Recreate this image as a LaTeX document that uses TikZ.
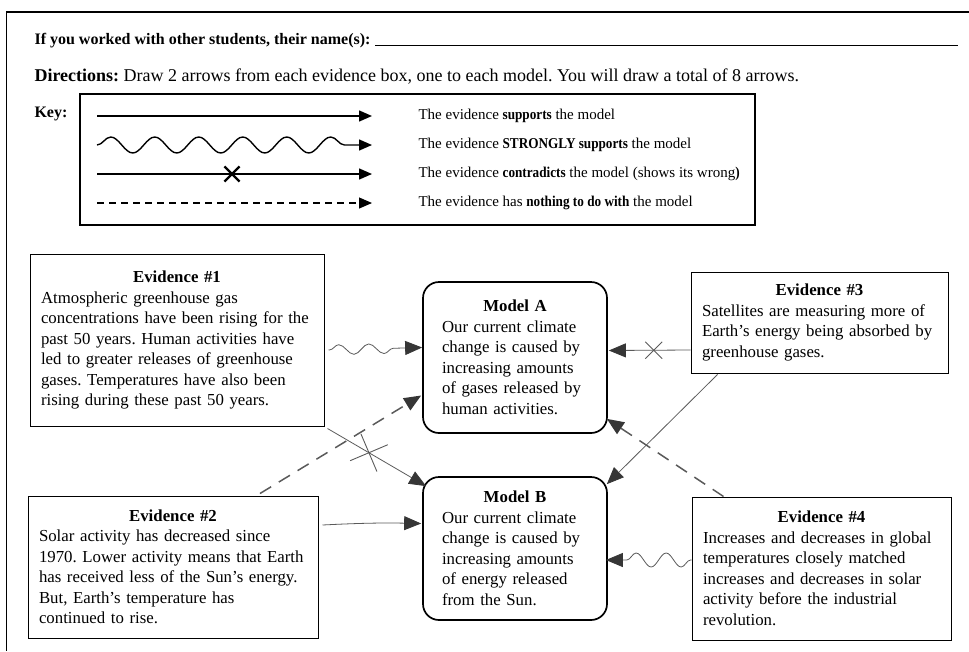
\documentclass[tikz,border=0pt]{standalone}
\usepackage{fontspec}
\setmainfont{Liberation Serif}
\newfontfamily\keyfont{Liberation Serif}[BoldFeatures={FakeStretch=0.88}]
\usetikzlibrary{arrows.meta,decorations.pathmorphing,shapes.misc,calc}
\definecolor{pencil}{HTML}{5A5A5A}
\definecolor{tipgray}{HTML}{363636}
\frenchspacing
\begin{document}
\begin{tikzpicture}[x=1pt,y=-1pt,
   evbox/.style={draw,line width=1pt,inner xsep=11pt,inner ysep=0pt,align=left,
     font=\fontsize{16.8}{20.5}\selectfont},
   modelbox/.style={draw,line width=1.7pt,rounded corners=16pt,inner xsep=19pt,inner ysep=0pt,align=left,
     font=\fontsize{16.8}{20.5}\selectfont},
   keyarrow/.style={line width=1.4pt,-{Triangle[length=13pt,width=11pt]}},
   pencilarrow/.style={pencil,line width=0.8pt,-{Triangle[length=17pt,width=14pt,color=tipgray]}},
   pencilwave/.style={pencilarrow,decorate,decoration={snake,amplitude=#1,segment length=30pt,
     pre length=1pt,post length=16pt}},
   pencildash/.style={pencilarrow,line width=1.5pt,dash pattern=on 13pt off 9pt},
   pencilcross/.style={cross out,draw=pencil,line width=0.9pt,inner sep=0pt},
   keycross/.style={cross out,draw,line width=2.2pt,inner sep=0pt,minimum size=13pt},
   keytext/.style={anchor=west,font=\keyfont\fontsize{15}{17}\selectfont}]
  \useasboundingbox (0,0) rectangle (969,651);
  \draw [line width=1.3pt] (969,12) -- (6.5,12) -- (6.5,651);
  \node [anchor=west,font=\fontsize{16}{19}\selectfont\bfseries] (names) at (31,41)
    {If you worked with other students, their name(s):};
  \draw [line width=0.8pt] ([xshift=1pt]names.base east) -- (names.base east -| 958,0);
  \node [anchor=west,font=\fontsize{18}{20}\selectfont] (dirs) at (31,77)
    {\textbf{Directions:} Draw 2 arrows from each evidence box, one to each model. You will draw a total of 8 arrows.};
  \node [anchor=west,font=\fontsize{16}{19}\selectfont\bfseries] (key) at (31,114) {Key:};
  \draw [line width=1.1pt] (80,94) rectangle (755,225);
  \draw [keyarrow] (97,116) -- (372,116);
  \draw [keyarrow,decorate,decoration={snake,amplitude=8pt,segment length=44pt,post length=16pt}]
    (97,145) -- (372,145);
  \draw [keyarrow] (97,174) -- (372,174);
  \node [keycross] (keyx) at (232,174) {};
  \draw [keyarrow,line width=1.1pt,dash pattern=on 7pt off 5pt] (97,203) -- (372,203);
  \node [keytext] (k1) at (415,116) {The evidence \textbf{supports} the model};
  \node [keytext] (k2) at (415,145) {The evidence \textbf{STRONGLY supports} the model};
  \node [keytext] (k3) at (415,174) {The evidence \textbf{contradicts} the model (shows its wrong\textbf{)}};
  \node [keytext] (k4) at (415,203) {The evidence has \textbf{nothing to do with} the model};
  \node [evbox,text width=272pt,minimum height=172pt] (ev1) at (177,340)
    {\hfill\textbf{Evidence \#1}\hfill\null\\
     Atmospheric greenhouse gas\\
     concentrations have been rising for the\\
     past 50 years. Human activities have\\
     led to greater releases of greenhouse\\
     gases. Temperatures have also been\\
     rising during these past 50 years.};
  \node [evbox,text width=268pt,minimum height=142pt] (ev2) at (173,567)
    {\hfill\textbf{Evidence \#2}\hfill\null\\
     Solar activity has decreased since\\
     1970. Lower activity means that Earth\\
     has received less of the Sun’s energy.\\
     But, Earth’s temperature has\\
     continued to rise.};
  \node [evbox,text width=235pt,minimum height=101pt] (ev3) at (819.5,322.5)
    {\hfill\textbf{Evidence \#3}\hfill\null\\
     Satellites are measuring more of\\
     Earth’s energy being absorbed by\\
     greenhouse gases.};
  \node [evbox,text width=237pt,minimum height=143pt] (ev4) at (821.5,568.5)
    {\hfill\textbf{Evidence \#4}\hfill\null\\
     Increases and decreases in global\\
     temperatures closely matched\\
     increases and decreases in solar\\
     activity before the industrial\\
     revolution.};
  \node [modelbox,text width=146pt,minimum height=151pt] (ma) at (515,357.5)
    {\hfill\textbf{Model A}\hfill\null\\
     Our current climate\\
     change is caused by\\
     increasing amounts\\
     of gases released by\\
     human activities.};
  \node [modelbox,text width=146pt,minimum height=143pt] (mb) at (515,548.5)
    {\hfill\textbf{Model B}\hfill\null\\
     Our current climate\\
     change is caused by\\
     increasing amounts\\
     of energy released\\
     from the Sun.};
  \draw [pencilwave=5pt] ($(ev1.east)+(4,10)$) -- ($(ma.west)+(0,-10)$);
  \draw [pencilarrow] ($(ev1.south east)+(3,2)$) -- ($(mb.north west)+(4,10)$)
    node [pencilcross,minimum size=28pt,pos=0.42,rotate=-22] (x1) {};
  \draw [pencildash] ($(ev2.north)+(87,-2)$) -- ($(ma.west)+(-1,38)$);
  \draw [pencilarrow] ($(ev2.east)+(4,-42)$) to [bend left=2] ($(mb.west)+(-1,-25)$);
  \draw [pencilarrow] ($(ev3.west)+(0,27.5)$) -- ($(ma.east)+(1,-7)$)
    node [pencilcross,minimum size=16pt,pos=0.45] (x2) {};
  \draw [pencilarrow] ($(ev3.south)+(-102,1)$) -- ($(mb.north east)+(-1,8)$);
  \draw [pencildash] ($(ev4.north)+(-98,0)$) -- ($(ma.south east)+(-1,-15)$);
  \draw [pencilwave=7pt] ($(ev4.west)+(0,-8.5)$) -- ($(mb.east)+(-2,11.5)$);
\end{tikzpicture}
\end{document}
